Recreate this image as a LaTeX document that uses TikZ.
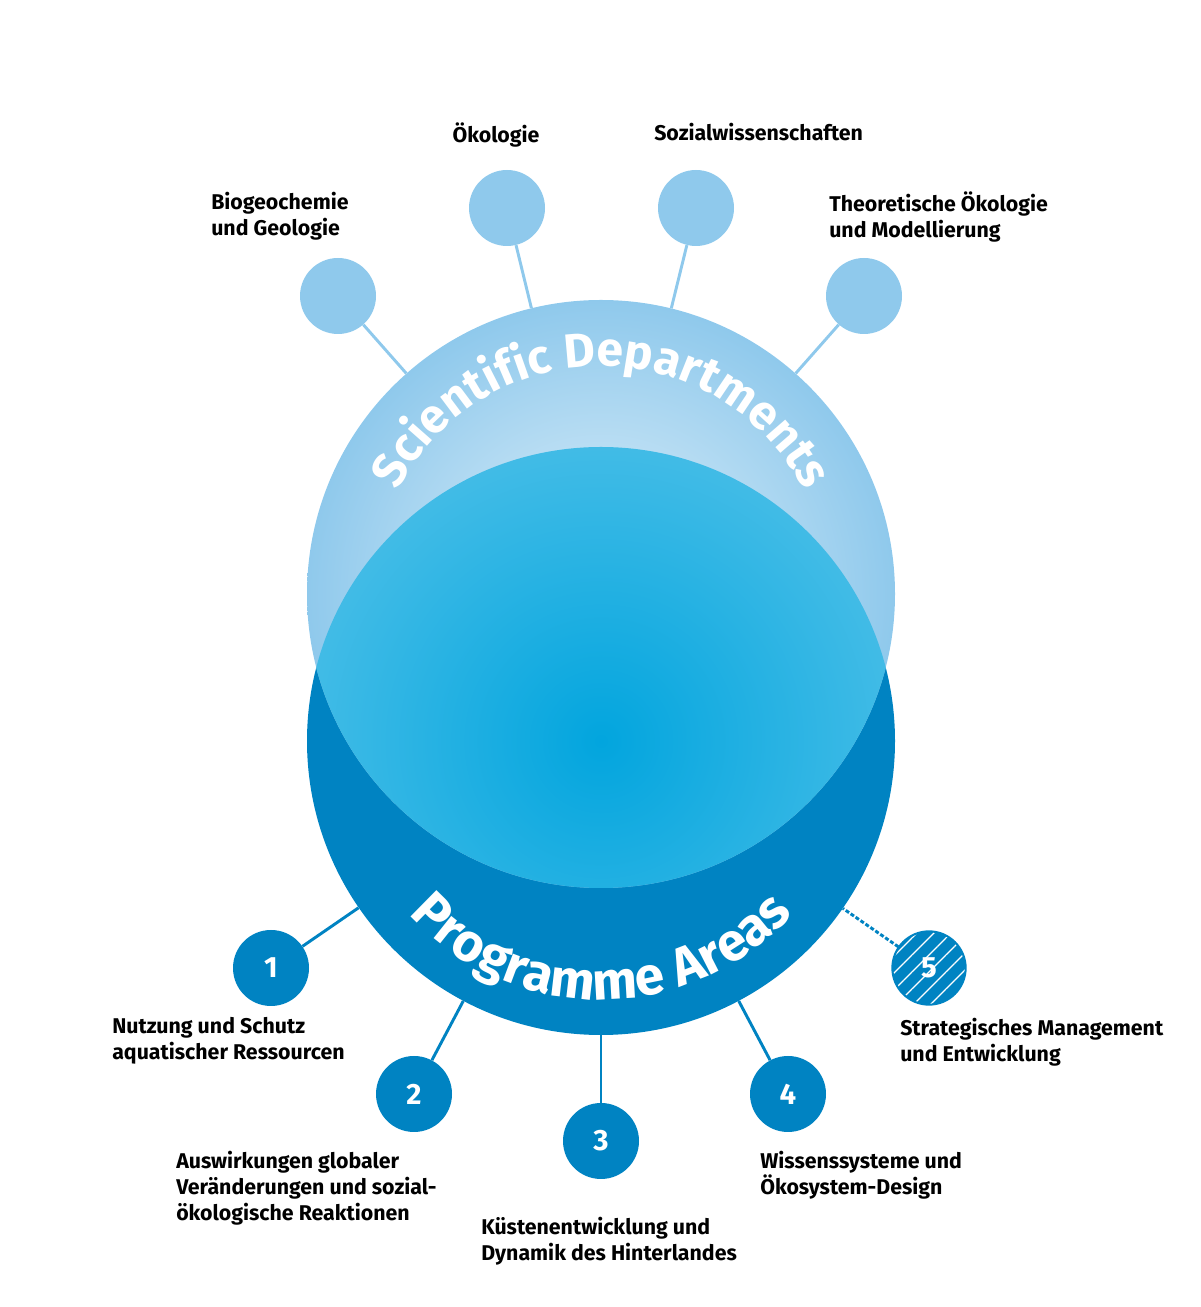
\documentclass[tikz,border=0pt]{standalone}
\usepackage{fontspec}
\setmainfont{Fira Sans}
\usetikzlibrary{decorations.text,patterns.meta}
\definecolor{deptblue}{HTML}{8FC9EC}
\definecolor{areablue}{HTML}{0083C2}
\definecolor{lensblue}{HTML}{02A5DE}
\begin{document}
\begin{tikzpicture}[x=0.75pt,y=0.75pt,
  dept/.style={draw=none, circle, fill=deptblue, minimum size=57pt},
  area/.style={circle, fill=areablue, minimum size=57pt, text=white, font=\fontsize{22}{22}\selectfont\bfseries},
  lbl/.style={anchor=north west, align=left, font=\fontsize{16}{19.5}\selectfont\bfseries, inner sep=0pt}]
\def \bigsize {441pt}
\useasboundingbox (0,0) rectangle (1200,1307);

% big circles
\node[circle, fill=areablue, minimum size=\bigsize] at (601,566) (pa) {};
\node[circle, inner color=deptblue!25, outer color=deptblue, minimum size=\bigsize] at (601,713) (sd) {};
\begin{scope}
  \clip (601,713) circle (220.5pt);
  \shade[inner color=lensblue, outer color=lensblue!75!white] (601,566) circle (220.5pt);
\end{scope}

% curved titles
\path[decorate, decoration={text along path, text align=center, text color=white,
  text={|\fontsize{36}{36}\selectfont\bfseries|Scientific Departments}}]
  ([shift={(165:171pt)}]601,713) arc[start angle=165, end angle=15, radius=171pt];
\path[decorate, decoration={text along path, text align=center, text color=white,
  text={|\fontsize{40}{40}\selectfont\bfseries|Programme Areas}}]
  ([shift={(205:194pt)}]601,566) arc[start angle=205, end angle=335, radius=194pt];

% departments
\node[dept] at (338,1011) (b1) {};
\node[dept] at (507,1099) (b2) {};
\node[dept] at (696,1099) (b3) {};
\node[dept] at (864,1011) (b4) {};
\foreach \n in {b1,b2,b3,b4}
  \draw[deptblue, line width=2.2pt] (\n) -- (sd);

\node[lbl] at (211,1115) (t1) {Biogeochemie\\und Geologie};
\node[lbl, anchor=north] at (496,1184) (t2) {Ökologie};
\node[lbl] at (654,1184) (t3) {Sozialwissenschaften};
\node[lbl] at (829,1115) (t4) {Theoretische Ökologie\\und Modellierung};

% programme areas
\node[area] at (271,339) (n1) {1};
\node[area] at (414,213) (n2) {2};
\node[area] at (601,166) (n3) {3};
\node[area] at (788,213) (n4) {4};
\node[circle, draw=areablue, line width=1.5pt, preaction={fill=areablue},
  pattern={Lines[angle=45, distance=9pt, line width=0.9pt]}, pattern color=white,
  minimum size=55pt, text=white, font=\fontsize{22}{22}\selectfont\bfseries] at (929,339) (n5) {5};
\foreach \n in {n1,n2,n3,n4}
  \draw[areablue, line width=2.2pt] (\n) -- (pa);
\draw[areablue, line width=2.2pt, dash pattern=on 3pt off 1.5pt] (n5) -- (pa);

\node[lbl] at (112,290) (l1) {Nutzung und Schutz\\aquatischer Ressourcen};
\node[lbl] at (176,156) (l2) {Auswirkungen globaler\\Veränderungen und sozial-\\ökologische Reaktionen};
\node[lbl] at (481,90) (l3) {Küstenentwicklung und\\Dynamik des Hinterlandes};
\node[lbl] at (760,156) (l4) {Wissenssysteme und\\Ökosystem-Design};
\node[lbl] at (900,289) (l5) {Strategisches Management\\und Entwicklung};
\end{tikzpicture}
\end{document}
